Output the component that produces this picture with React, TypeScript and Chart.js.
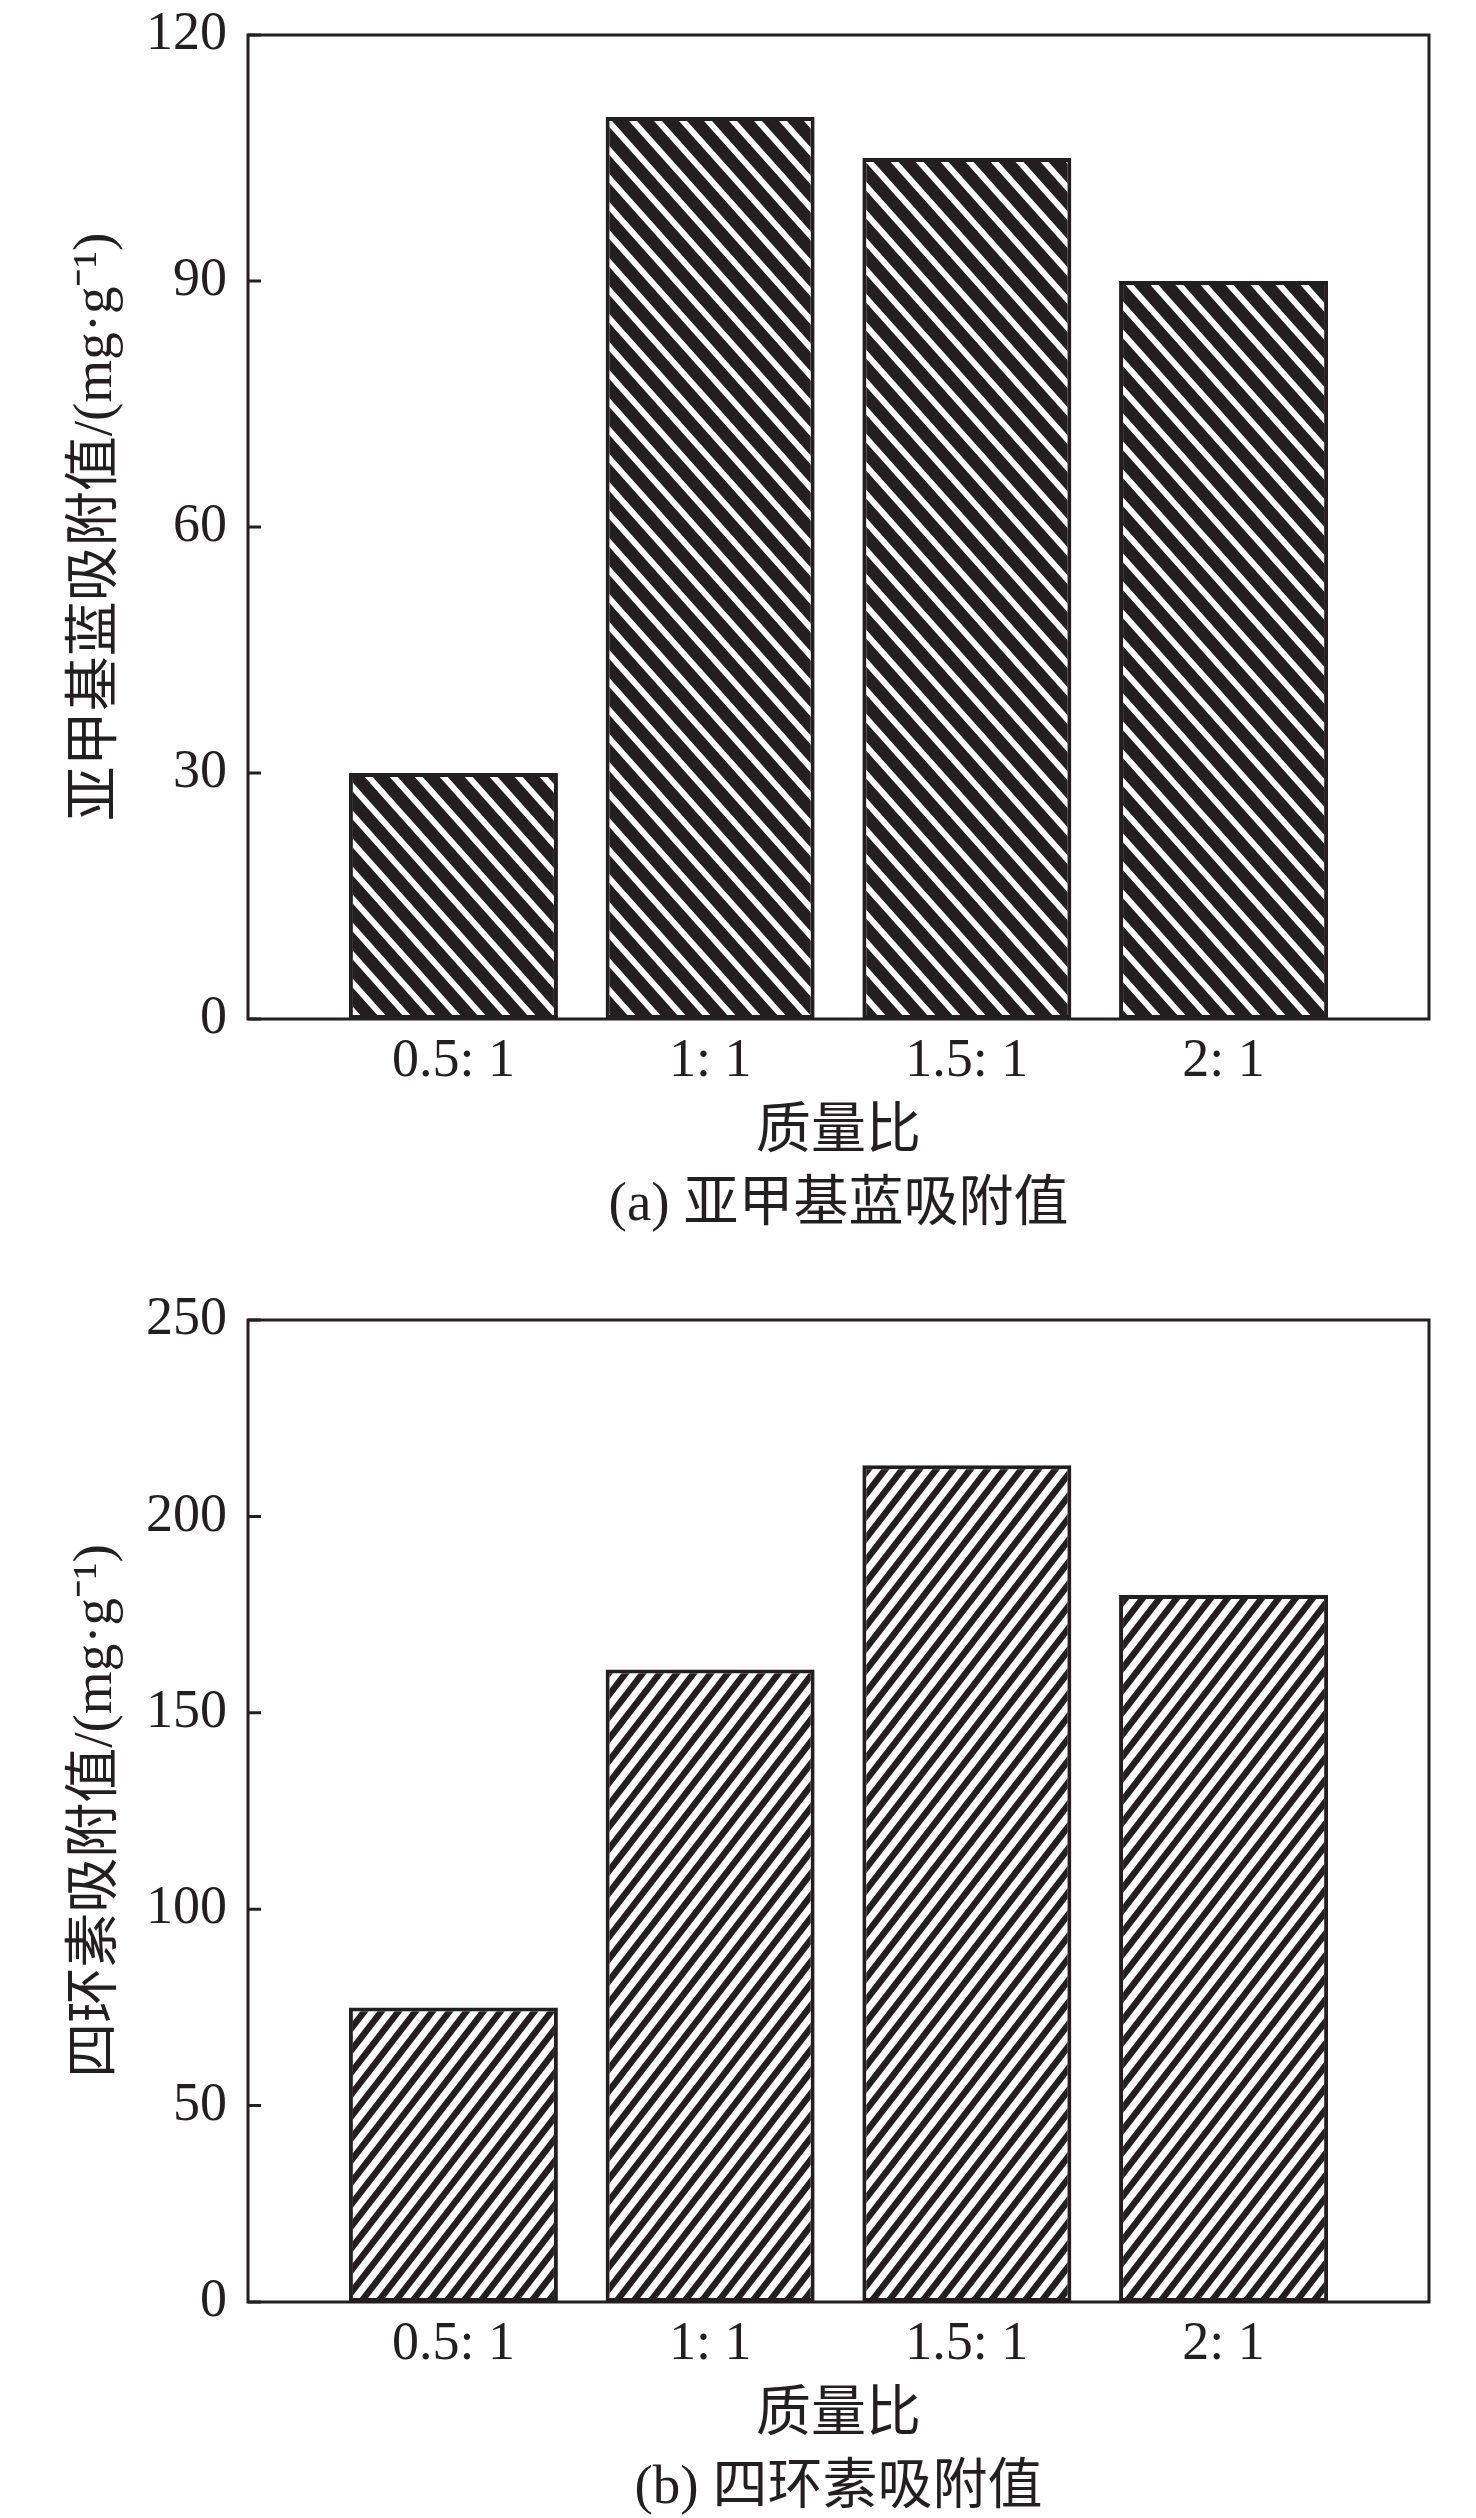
import { useEffect, useRef } from "react";
import { Chart, registerables } from "chart.js";

Chart.register(...registerables);

// data
const ratioLabels = ["0.5: 1", "1: 1", "1.5: 1", "2: 1"];
const mbValues = [30, 110, 105, 90];
const tcValues = [75, 161, 213, 180];
const mbTicks = [0, 30, 60, 90, 120];
const tcTicks = [0, 50, 100, 150, 200, 250];

const INK = "#231f20";
const FONT = "'Liberation Serif', 'Noto Sans CJK SC', serif";

// diagonal white stripes on dark ink; "back" = \ , "fwd" = /
function stripePattern(dir: "back" | "fwd", w: number, h: number, lw: number) {
  const c = document.createElement("canvas");
  c.width = w;
  c.height = h;
  const g = c.getContext("2d")!;
  g.fillStyle = INK;
  g.fillRect(0, 0, w, h);
  g.strokeStyle = "#fff";
  g.lineWidth = lw;
  for (let k = -2; k <= 2; k++) {
    g.beginPath();
    if (dir === "back") {
      g.moveTo(k * w - w, -h);
      g.lineTo(k * w + 2 * w, 2 * h);
    } else {
      g.moveTo(k * w - w, 2 * h);
      g.lineTo(k * w + 2 * w, -h);
    }
    g.stroke();
  }
  return g.createPattern(c, "repeat")!;
}

// box round the plot + inward ticks on the left axis
const framePlugin = {
  id: "frame",
  afterDraw(chart: any) {
    const { ctx, chartArea: a, scales } = chart;
    const y = scales.y;
    ctx.save();
    ctx.strokeStyle = INK;
    ctx.lineWidth = 3;
    ctx.strokeRect(a.left, a.top, a.right - a.left, a.bottom - a.top);
    ctx.beginPath();
    for (const t of y.ticks) {
      const py = y.getPixelForValue(t.value);
      ctx.moveTo(a.left, py);
      ctx.lineTo(a.left + 13, py);
    }
    ctx.stroke();
    ctx.restore();
  },
};

type PanelProps = {
  values: number[];
  ticks: number[];
  yTitle: string;
  caption: string;
  stripe: "back" | "fwd";
  height: number;
  padTop: number;
  padBottom: number;
};

function Panel({ values, ticks, yTitle, caption, stripe, height, padTop, padBottom }: PanelProps) {
  const canvasRef = useRef<HTMLCanvasElement | null>(null);

  useEffect(() => {
    if (!canvasRef.current) return;
    const pattern =
      stripe === "back" ? stripePattern("back", 25, 28, 6) : stripePattern("fwd", 17, 22, 7);

    const chart = new Chart(canvasRef.current, {
      type: "bar",
      data: {
        datasets: [
          {
            data: values.map((v, i) => ({ x: i, y: v })),
            backgroundColor: pattern,
            borderColor: INK,
            borderWidth: 4,
            borderSkipped: false,
            barPercentage: 0.814,
            categoryPercentage: 1,
          },
        ],
      },
      options: {
        responsive: false,
        animation: false,
        layout: { padding: { top: padTop, right: 47, bottom: padBottom, left: 0 } },
        plugins: {
          legend: { display: false },
          tooltip: { enabled: false },
          title: {
            display: true,
            text: caption,
            position: "bottom",
            fullSize: false,
            color: INK,
            font: { family: FONT, size: 55, weight: "normal", lineHeight: 1 },
            padding: { top: 12.5, bottom: 0 },
          },
        },
        scales: {
          x: {
            type: "linear",
            offset: false,
            min: -0.8,
            max: 3.8,
            grid: { display: false, drawTicks: false, offset: false },
            border: { display: false },
            afterBuildTicks: (s: any) => {
              s.ticks = ratioLabels.map((_, i) => ({ value: i }));
            },
            afterFit: (s: any) => {
              s.height = 147;
              s.paddingLeft = 0;
              s.paddingRight = 0;
            },
            ticks: {
              autoSkip: false,
              maxRotation: 0,
              padding: 10,
              color: INK,
              font: { family: FONT, size: 54 },
              callback: (v: any) => ratioLabels[v] ?? "",
            },
            title: {
              display: true,
              text: "质量比",
              color: INK,
              font: { family: FONT, size: 55, lineHeight: 1.2 },
              padding: 0,
            },
          },
          y: {
            min: ticks[0],
            max: ticks[ticks.length - 1],
            grid: { display: false, drawTicks: false },
            border: { display: false },
            afterBuildTicks: (s: any) => {
              s.ticks = ticks.map((v) => ({ value: v }));
            },
            afterFit: (s: any) => {
              s.width = 248;
              s.paddingTop = 0;
              s.paddingBottom = 0;
            },
            ticks: {
              padding: 21,
              color: INK,
              font: { family: FONT, size: 54 },
            },
            title: {
              display: true,
              text: yTitle,
              color: INK,
              font: { family: FONT, size: 55, lineHeight: 1.2 },
              padding: { top: 64, bottom: 0 },
            },
          },
        },
      },
      plugins: [framePlugin],
    });

    return () => {
      chart.destroy();
    };
  }, [values, ticks, yTitle, caption, stripe, height, padTop, padBottom]);

  return (
    <canvas
      ref={canvasRef}
      width={1476}
      height={height}
      style={{ display: "block", width: 1476, height }}
    />
  );
}

export default function App() {
  return (
    <div style={{ position: "absolute", left: 0, top: 0, width: 1476, background: "#fff" }}>
      <Panel
        values={mbValues}
        ticks={mbTicks}
        yTitle="亚甲基蓝吸附值/(mg·g⁻¹)"
        caption="(a) 亚甲基蓝吸附值"
        stripe="back"
        height={1262}
        padTop={35}
        padBottom={28.5}
      />
      <Panel
        values={tcValues}
        ticks={tcTicks}
        yTitle="四环素吸附值/(mg·g⁻¹)"
        caption="(b) 四环素吸附值"
        stripe="fwd"
        height={1256}
        padTop={58}
        padBottom={1.5}
      />
    </div>
  );
}
